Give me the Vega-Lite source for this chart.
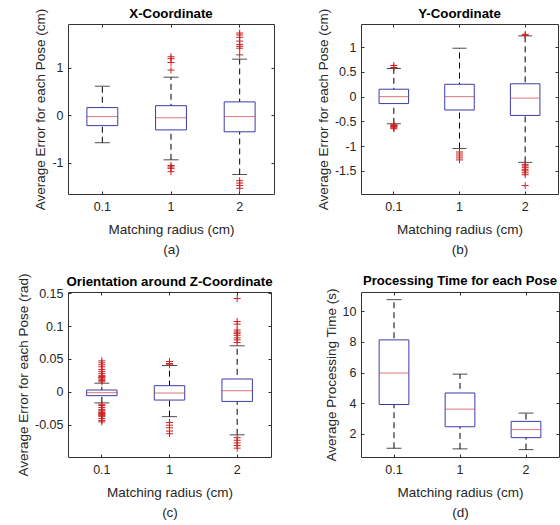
{
  "$schema": "https://vega.github.io/schema/vega-lite/v6.json",
  "background": "white",
  "padding": {"left": 16, "top": 6, "right": 0, "bottom": 0},
  "columns": 2,
  "bounds": "flush",
  "align": "none",
  "spacing": {"row": 98, "column": 87},
  "datasets": {
    "a": [
      {"r": "0.1", "lo": -0.58, "q1": -0.22, "med": -0.03, "q3": 0.16, "hi": 0.61},
      {"r": "1", "lo": -0.94, "q1": -0.31, "med": -0.055, "q3": 0.2, "hi": 0.8},
      {"r": "2", "lo": -1.25, "q1": -0.35, "med": -0.03, "q3": 0.28, "hi": 1.18}
    ],
    "ao": [
      {"r": "1", "v": 1.23}, {"r": "1", "v": 1.19}, {"r": "1", "v": 1.11}, {"r": "1", "v": 0.95},
      {"r": "1", "v": -1.06}, {"r": "1", "v": -1.09}, {"r": "1", "v": -1.12}, {"r": "1", "v": -1.19},
      {"r": "2", "v": 1.73}, {"r": "2", "v": 1.69}, {"r": "2", "v": 1.64}, {"r": "2", "v": 1.56},
      {"r": "2", "v": 1.49}, {"r": "2", "v": 1.45}, {"r": "2", "v": 1.41}, {"r": "2", "v": 1.27},
      {"r": "2", "v": -1.38}, {"r": "2", "v": -1.43}, {"r": "2", "v": -1.48}, {"r": "2", "v": -1.54}
    ],
    "b": [
      {"r": "0.1", "lo": -0.55, "q1": -0.14, "med": 0.0, "q3": 0.15, "hi": 0.57},
      {"r": "1", "lo": -1.05, "q1": -0.27, "med": 0.0, "q3": 0.25, "hi": 0.98},
      {"r": "2", "lo": -1.33, "q1": -0.38, "med": -0.03, "q3": 0.26, "hi": 1.23}
    ],
    "bo": [
      {"r": "0.1", "v": 0.63}, {"r": "0.1", "v": 0.59}, {"r": "0.1", "v": -0.57}, {"r": "0.1", "v": -0.58},
      {"r": "0.1", "v": -0.59}, {"r": "0.1", "v": -0.6}, {"r": "0.1", "v": -0.61}, {"r": "0.1", "v": -0.63},
      {"r": "0.1", "v": -0.65},
      {"r": "1", "v": -1.12}, {"r": "1", "v": -1.16}, {"r": "1", "v": -1.2}, {"r": "1", "v": -1.24}, {"r": "1", "v": -1.28},
      {"r": "2", "v": 1.24}, {"r": "2", "v": 1.26}, {"r": "2", "v": -1.37}, {"r": "2", "v": -1.4},
      {"r": "2", "v": -1.43}, {"r": "2", "v": -1.47}, {"r": "2", "v": -1.5}, {"r": "2", "v": -1.54},
      {"r": "2", "v": -1.58}, {"r": "2", "v": -1.8}
    ],
    "c": [
      {"r": "0.1", "lo": -0.017, "q1": -0.006, "med": -0.0015, "q3": 0.0026, "hi": 0.013},
      {"r": "1", "lo": -0.038, "q1": -0.0127, "med": -0.002, "q3": 0.0092, "hi": 0.04},
      {"r": "2", "lo": -0.0657, "q1": -0.0148, "med": 0.0015, "q3": 0.0194, "hi": 0.07}
    ],
    "co": [
      {"r": "0.1", "v": 0.047}, {"r": "0.1", "v": 0.044}, {"r": "0.1", "v": 0.041}, {"r": "0.1", "v": 0.038},
      {"r": "0.1", "v": 0.034}, {"r": "0.1", "v": 0.031}, {"r": "0.1", "v": 0.028}, {"r": "0.1", "v": 0.025},
      {"r": "0.1", "v": 0.023}, {"r": "0.1", "v": 0.022}, {"r": "0.1", "v": 0.021}, {"r": "0.1", "v": 0.019},
      {"r": "0.1", "v": 0.017}, {"r": "0.1", "v": 0.015},
      {"r": "0.1", "v": -0.019}, {"r": "0.1", "v": -0.021}, {"r": "0.1", "v": -0.024}, {"r": "0.1", "v": -0.027},
      {"r": "0.1", "v": -0.029}, {"r": "0.1", "v": -0.031}, {"r": "0.1", "v": -0.032}, {"r": "0.1", "v": -0.033},
      {"r": "0.1", "v": -0.034}, {"r": "0.1", "v": -0.035}, {"r": "0.1", "v": -0.036}, {"r": "0.1", "v": -0.038},
      {"r": "0.1", "v": -0.041}, {"r": "0.1", "v": -0.044}, {"r": "0.1", "v": -0.046},
      {"r": "1", "v": 0.041}, {"r": "1", "v": 0.043}, {"r": "1", "v": 0.046},
      {"r": "1", "v": -0.047}, {"r": "1", "v": -0.051}, {"r": "1", "v": -0.055}, {"r": "1", "v": -0.06}, {"r": "1", "v": -0.064},
      {"r": "2", "v": 0.142}, {"r": "2", "v": 0.107}, {"r": "2", "v": 0.103}, {"r": "2", "v": 0.094},
      {"r": "2", "v": 0.091}, {"r": "2", "v": 0.089}, {"r": "2", "v": 0.086}, {"r": "2", "v": 0.082},
      {"r": "2", "v": 0.079}, {"r": "2", "v": 0.075},
      {"r": "2", "v": -0.07}, {"r": "2", "v": -0.074}, {"r": "2", "v": -0.078}, {"r": "2", "v": -0.082}, {"r": "2", "v": -0.086}
    ],
    "d": [
      {"r": "0.1", "lo": 1.07, "q1": 3.92, "med": 5.97, "q3": 8.13, "hi": 10.75},
      {"r": "1", "lo": 1.03, "q1": 2.47, "med": 3.62, "q3": 4.67, "hi": 5.9},
      {"r": "2", "lo": 0.98, "q1": 1.76, "med": 2.28, "q3": 2.82, "hi": 3.36}
    ]
  },
  "concat": [
    {
      "width": 206, "height": 170,
      "title": {"text": "X-Coordinate", "offset": -12.5},
      "layer": [
        {"data": {"name": "a"}, "mark": {"type": "rule", "strokeDash": [6, 4], "color": "#000", "strokeWidth": 1},
         "encoding": {
           "x": {"field": "r", "type": "nominal", "scale": {"type": "band", "paddingInner": 0, "paddingOuter": 0}, "axis": {"orient": "bottom", "title": ["Matching radius (cm)", "(a)"]}},
           "y": {"field": "lo", "type": "quantitative", "scale": {"domain": [-1.66, 1.92], "nice": false, "zero": false}, "axis": {"orient": "left", "values": [-1, 0, 1], "title": "Average Error for each Pose (cm)"}},
           "y2": {"field": "hi"}}},
        {"data": {"name": "a"}, "mark": {"type": "tick", "size": 15, "thickness": 1, "color": "#000"},
         "encoding": {"x": {"field": "r", "type": "nominal", "axis": null}, "y": {"field": "lo", "type": "quantitative", "axis": null}}},
        {"data": {"name": "a"}, "mark": {"type": "tick", "size": 15, "thickness": 1, "color": "#000"},
         "encoding": {"x": {"field": "r", "type": "nominal", "axis": null}, "y": {"field": "hi", "type": "quantitative", "axis": null}}},
        {"data": {"name": "a"}, "mark": {"type": "bar", "fill": "white", "stroke": "#3c3cab", "strokeWidth": 1, "width": {"band": 0.45}},
         "encoding": {"x": {"field": "r", "type": "nominal", "axis": null}, "y": {"field": "q1", "type": "quantitative", "axis": null}, "y2": {"field": "q3"}}},
        {"data": {"name": "a"}, "mark": {"type": "tick", "size": 31, "thickness": 1, "color": "#c83c3c"},
         "encoding": {"x": {"field": "r", "type": "nominal", "axis": {"orient": "top", "labels": false, "title": null}}, "y": {"field": "med", "type": "quantitative", "axis": {"orient": "right", "labels": false, "title": null, "values": [-1, 0, 1]}}}},
        {"data": {"name": "ao"}, "mark": {"type": "point", "shape": "M-1,0H1M0,-1V1", "size": 49, "filled": false, "stroke": "#cc2222", "strokeWidth": 1, "opacity": 1},
         "encoding": {"x": {"field": "r", "type": "nominal", "axis": null}, "y": {"field": "v", "type": "quantitative", "axis": null}}}
      ]
    },
    {
      "width": 197, "height": 170,
      "title": {"text": "Y-Coordinate", "offset": -12.5},
      "layer": [
        {"data": {"name": "b"}, "mark": {"type": "rule", "strokeDash": [6, 4], "color": "#000", "strokeWidth": 1},
         "encoding": {
           "x": {"field": "r", "type": "nominal", "scale": {"type": "band", "paddingInner": 0, "paddingOuter": 0}, "axis": {"orient": "bottom", "title": ["Matching radius (cm)", "(b)"]}},
           "y": {"field": "lo", "type": "quantitative", "scale": {"domain": [-1.97, 1.47], "nice": false, "zero": false}, "axis": {"orient": "left", "values": [-1.5, -1, -0.5, 0, 0.5, 1], "title": "Average Error for each Pose (cm)"}},
           "y2": {"field": "hi"}}},
        {"data": {"name": "b"}, "mark": {"type": "tick", "size": 14, "thickness": 1, "color": "#000"},
         "encoding": {"x": {"field": "r", "type": "nominal", "axis": null}, "y": {"field": "lo", "type": "quantitative", "axis": null}}},
        {"data": {"name": "b"}, "mark": {"type": "tick", "size": 14, "thickness": 1, "color": "#000"},
         "encoding": {"x": {"field": "r", "type": "nominal", "axis": null}, "y": {"field": "hi", "type": "quantitative", "axis": null}}},
        {"data": {"name": "b"}, "mark": {"type": "bar", "fill": "white", "stroke": "#3c3cab", "strokeWidth": 1, "width": {"band": 0.45}},
         "encoding": {"x": {"field": "r", "type": "nominal", "axis": null}, "y": {"field": "q1", "type": "quantitative", "axis": null}, "y2": {"field": "q3"}}},
        {"data": {"name": "b"}, "mark": {"type": "tick", "size": 29, "thickness": 1, "color": "#c83c3c"},
         "encoding": {"x": {"field": "r", "type": "nominal", "axis": {"orient": "top", "labels": false, "title": null}}, "y": {"field": "med", "type": "quantitative", "axis": {"orient": "right", "labels": false, "title": null, "values": [-1.5, -1, -0.5, 0, 0.5, 1]}}}},
        {"data": {"name": "bo"}, "mark": {"type": "point", "shape": "M-1,0H1M0,-1V1", "size": 49, "filled": false, "stroke": "#cc2222", "strokeWidth": 1, "opacity": 1},
         "encoding": {"x": {"field": "r", "type": "nominal", "axis": null}, "y": {"field": "v", "type": "quantitative", "axis": null}}}
      ]
    },
    {
      "width": 203, "height": 165,
      "title": {"text": "Orientation around Z-Coordinate", "offset": -15},
      "layer": [
        {"data": {"name": "c"}, "mark": {"type": "rule", "strokeDash": [6, 4], "color": "#000", "strokeWidth": 1},
         "encoding": {
           "x": {"field": "r", "type": "nominal", "scale": {"type": "band", "paddingInner": 0, "paddingOuter": 0}, "axis": {"orient": "bottom", "title": ["Matching radius (cm)", "(c)"]}},
           "y": {"field": "lo", "type": "quantitative", "scale": {"domain": [-0.0995, 0.152], "nice": false, "zero": false}, "axis": {"orient": "left", "values": [-0.05, 0, 0.05, 0.1, 0.15], "title": "Average Error for each Pose (rad)"}},
           "y2": {"field": "hi"}}},
        {"data": {"name": "c"}, "mark": {"type": "tick", "size": 15, "thickness": 1, "color": "#000"},
         "encoding": {"x": {"field": "r", "type": "nominal", "axis": null}, "y": {"field": "lo", "type": "quantitative", "axis": null}}},
        {"data": {"name": "c"}, "mark": {"type": "tick", "size": 15, "thickness": 1, "color": "#000"},
         "encoding": {"x": {"field": "r", "type": "nominal", "axis": null}, "y": {"field": "hi", "type": "quantitative", "axis": null}}},
        {"data": {"name": "c"}, "mark": {"type": "bar", "fill": "white", "stroke": "#3c3cab", "strokeWidth": 1, "width": {"band": 0.45}},
         "encoding": {"x": {"field": "r", "type": "nominal", "axis": null}, "y": {"field": "q1", "type": "quantitative", "axis": null}, "y2": {"field": "q3"}}},
        {"data": {"name": "c"}, "mark": {"type": "tick", "size": 31, "thickness": 1, "color": "#c83c3c"},
         "encoding": {"x": {"field": "r", "type": "nominal", "axis": {"orient": "top", "labels": false, "title": null}}, "y": {"field": "med", "type": "quantitative", "axis": {"orient": "right", "labels": false, "title": null, "values": [-0.05, 0, 0.05, 0.1, 0.15]}}}},
        {"data": {"name": "co"}, "mark": {"type": "point", "shape": "M-1,0H1M0,-1V1", "size": 49, "filled": false, "stroke": "#cc2222", "strokeWidth": 1, "opacity": 1},
         "encoding": {"x": {"field": "r", "type": "nominal", "axis": null}, "y": {"field": "v", "type": "quantitative", "axis": null}}}
      ]
    },
    {
      "width": 198, "height": 165,
      "title": {"text": "Processing Time for each Pose", "offset": 0, "fontSize": 13.1},
      "layer": [
        {"data": {"name": "d"}, "mark": {"type": "rule", "strokeDash": [6, 4], "color": "#000", "strokeWidth": 1},
         "encoding": {
           "x": {"field": "r", "type": "nominal", "scale": {"type": "band", "paddingInner": 0, "paddingOuter": 0}, "axis": {"orient": "bottom", "title": ["Matching radius (cm)", "(d)"]}},
           "y": {"field": "lo", "type": "quantitative", "scale": {"domain": [0.5, 11.25], "nice": false, "zero": false}, "axis": {"orient": "left", "values": [2, 4, 6, 8, 10], "title": "Average Processing Time (s)"}},
           "y2": {"field": "hi"}}},
        {"data": {"name": "d"}, "mark": {"type": "tick", "size": 15, "thickness": 1, "color": "#000"},
         "encoding": {"x": {"field": "r", "type": "nominal", "axis": null}, "y": {"field": "lo", "type": "quantitative", "axis": null}}},
        {"data": {"name": "d"}, "mark": {"type": "tick", "size": 15, "thickness": 1, "color": "#000"},
         "encoding": {"x": {"field": "r", "type": "nominal", "axis": null}, "y": {"field": "hi", "type": "quantitative", "axis": null}}},
        {"data": {"name": "d"}, "mark": {"type": "bar", "fill": "white", "stroke": "#3c3cab", "strokeWidth": 1, "width": {"band": 0.45}},
         "encoding": {"x": {"field": "r", "type": "nominal", "axis": null}, "y": {"field": "q1", "type": "quantitative", "axis": null}, "y2": {"field": "q3"}}},
        {"data": {"name": "d"}, "mark": {"type": "tick", "size": 30, "thickness": 1, "color": "#c83c3c"},
         "encoding": {"x": {"field": "r", "type": "nominal", "axis": {"orient": "top", "labels": false, "title": null}}, "y": {"field": "med", "type": "quantitative", "axis": {"orient": "right", "labels": false, "title": null, "values": [2, 4, 6, 8, 10]}}}}
      ]
    }
  ],
  "config": {
    "font": "Liberation Sans",
    "view": {"stroke": "#333333", "strokeWidth": 1},
    "axis": {
      "domain": false, "grid": false,
      "tickSize": -3, "tickColor": "#333333",
      "labelFont": "Liberation Sans", "labelFontSize": 12.5, "labelColor": "#262626", "labelPadding": 8,
      "titleFont": "Liberation Sans", "titleFontSize": 13.5, "titleFontWeight": "normal", "titleColor": "#262626",
      "format": "~r"
    },
    "axisX": {"labelAngle": 0, "labelPadding": 9, "titlePadding": 10, "titleLineHeight": 20},
    "axisY": {"titlePadding": 4},
    "title": {"font": "Liberation Sans", "fontSize": 13.3, "fontWeight": "bold", "color": "#000000", "frame": "group", "anchor": "middle"},
    "locale": {"number": {"decimal": ".", "thousands": ",", "grouping": [3], "currency": ["$", ""], "minus": "-"}}
  }
}
